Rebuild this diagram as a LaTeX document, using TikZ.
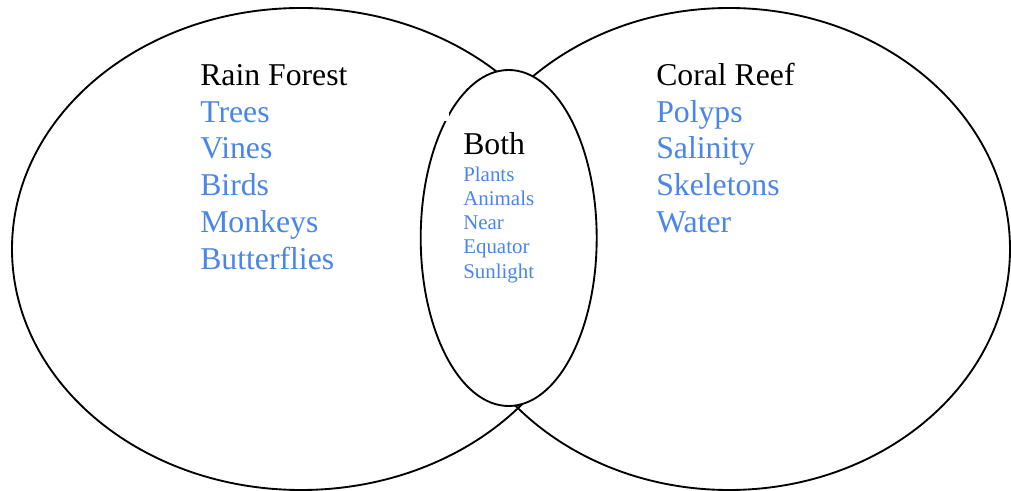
\documentclass[tikz,border=0pt]{standalone}
\usepackage{fontspec}
\setmainfont{Liberation Serif}
\definecolor{itemblue}{HTML}{4A86E8}
\begin{document}
\begin{tikzpicture}[x=0.75pt,y=-0.75pt,
  ring/.style={draw=black,line width=1.4pt},
  head/.style={anchor=base west,inner sep=0pt,text=black,font=\fontsize{23.8pt}{27pt}\selectfont},
  bigitem/.style={anchor=base west,inner sep=0pt,text=itemblue,font=\fontsize{23.8pt}{27pt}\selectfont},
  smallitem/.style={anchor=base west,inner sep=0pt,text=itemblue,font=\fontsize{15.7pt}{18pt}\selectfont}]
\useasboundingbox[fill=white] (0,0) rectangle (1011,491);
% circles
\draw[ring] (301,249) ellipse [x radius=216.75pt, y radius=180.75pt];
\draw[ring] (729,249) ellipse [x radius=210.75pt, y radius=180.75pt];
\draw[ring,fill=white] (508.7,238) ellipse [x radius=66pt, y radius=126pt];
\fill[white] (441,113.5) rectangle (449,121.5);
% left
\node[head] (rf) at (200,86) {Rain Forest};
\node[bigitem] (l1) at (200,122.5) {Trees};
\node[bigitem] (l2) at (200,159) {Vines};
\node[bigitem] (l3) at (200,196) {Birds};
\node[bigitem] (l4) at (200,232.5) {Monkeys};
\node[bigitem] (l5) at (200,269.5) {Butterflies};
% right
\node[head] (cr) at (656,86) {Coral Reef};
\node[bigitem] (r1) at (656,122.5) {Polyps};
\node[bigitem] (r2) at (656,159) {Salinity};
\node[bigitem] (r3) at (656,196) {Skeletons};
\node[bigitem] (r4) at (656,232.5) {Water};
% both
\node[head] (bo) at (463,155) {Both};
\node[smallitem] (b1) at (463,181.7) {Plants};
\node[smallitem] (b2) at (463,206) {Animals};
\node[smallitem] (b3) at (463,230) {Near};
\node[smallitem] (b4) at (463,254) {Equator};
\node[smallitem] (b5) at (463,278.5) {Sunlight};
\end{tikzpicture}
\end{document}
